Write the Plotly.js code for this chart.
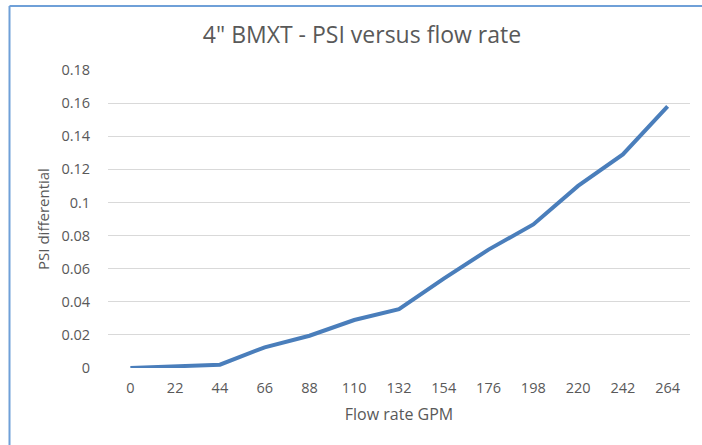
<!DOCTYPE html>
<html>
<head>
<meta charset="utf-8">
<script src="https://cdn.plot.ly/plotly-3.0.1.min.js"></script>
<style>
html,body{margin:0;padding:0;background:#fff;}
#chart{width:702px;height:445px;}
</style>
</head>
<body>
<div id="chart"></div>
<script>
const flowRates = ['0','22','44','66','88','110','132','154','176','198','220','242','264'];
const psiDiff = [0, 0.001, 0.002, 0.0125, 0.0195, 0.029, 0.0355, 0.054, 0.0715, 0.0867, 0.110, 0.129, 0.158];
const yTicks = [0, 0.02, 0.04, 0.06, 0.08, 0.1, 0.12, 0.14, 0.16, 0.18];
const yTickText = ['0','0.02','0.04','0.06','0.08','0.1','0.12','0.14','0.16','0.18'];

const FONT = '"Open Sans", Lato, sans-serif';
const GREY = '#595959';
const L = 108, R = 12, T = 70, B = 77, W = 702, H = 445;
const pw = W - L - R, ph = H - T - B;
const px = v => (v - L) / pw;
const py = v => (H - B - v) / ph;

const trace = {
  x: flowRates,
  y: psiDiff,
  type: 'scatter',
  mode: 'lines',
  line: {color: '#4a7ebb', width: 4},
  hoverinfo: 'x+y'
};

const layout = {
  width: W, height: H,
  margin: {l: L, r: R, t: T, b: B, pad: 0},
  paper_bgcolor: '#fff',
  plot_bgcolor: '#fff',
  showlegend: false,
  font: {family: FONT, color: GREY, size: 14},
  title: {
    text: '4" BMXT - PSI versus flow rate',
    font: {family: FONT, size: 23, color: GREY},
    x: 362 / W, xanchor: 'center',
    y: 1 - 35 / H, yanchor: 'middle'
  },
  xaxis: {
    type: 'category',
    range: [-0.5, 12.5],
    showgrid: false,
    zeroline: false,
    showline: false,
    ticks: 'outside', ticklen: 7, tickcolor: 'rgba(0,0,0,0)',
    tickfont: {family: FONT, size: 14.5, color: GREY},
    title: {text: 'Flow rate GPM', font: {family: FONT, size: 16, color: GREY}, standoff: 12}
  },
  yaxis: {
    range: [0, 0.18],
    tickvals: yTicks,
    ticktext: yTickText,
    showgrid: true,
    gridcolor: '#d9d9d9',
    gridwidth: 1,
    zeroline: false,
    showline: false,
    ticks: 'outside', ticklen: 14, tickcolor: 'rgba(0,0,0,0)',
    tickfont: {family: FONT, size: 14.5, color: GREY},
    title: {text: 'PSI differential', font: {family: FONT, size: 15, color: GREY}, standoff: 8}
  },
  shapes: [
    {type: 'line', xref: 'paper', yref: 'paper', x0: px(9.5), x1: px(9.5), y0: py(6), y1: py(445), line: {color: '#6fa0d8', width: 2}},
    {type: 'line', xref: 'paper', yref: 'paper', x0: px(9.5), x1: px(702), y0: py(6), y1: py(6), line: {color: '#6fa0d8', width: 2}}
  ]
};

Plotly.newPlot('chart', [trace], layout, {displayModeBar: false, responsive: false});
</script>
</body>
</html>
